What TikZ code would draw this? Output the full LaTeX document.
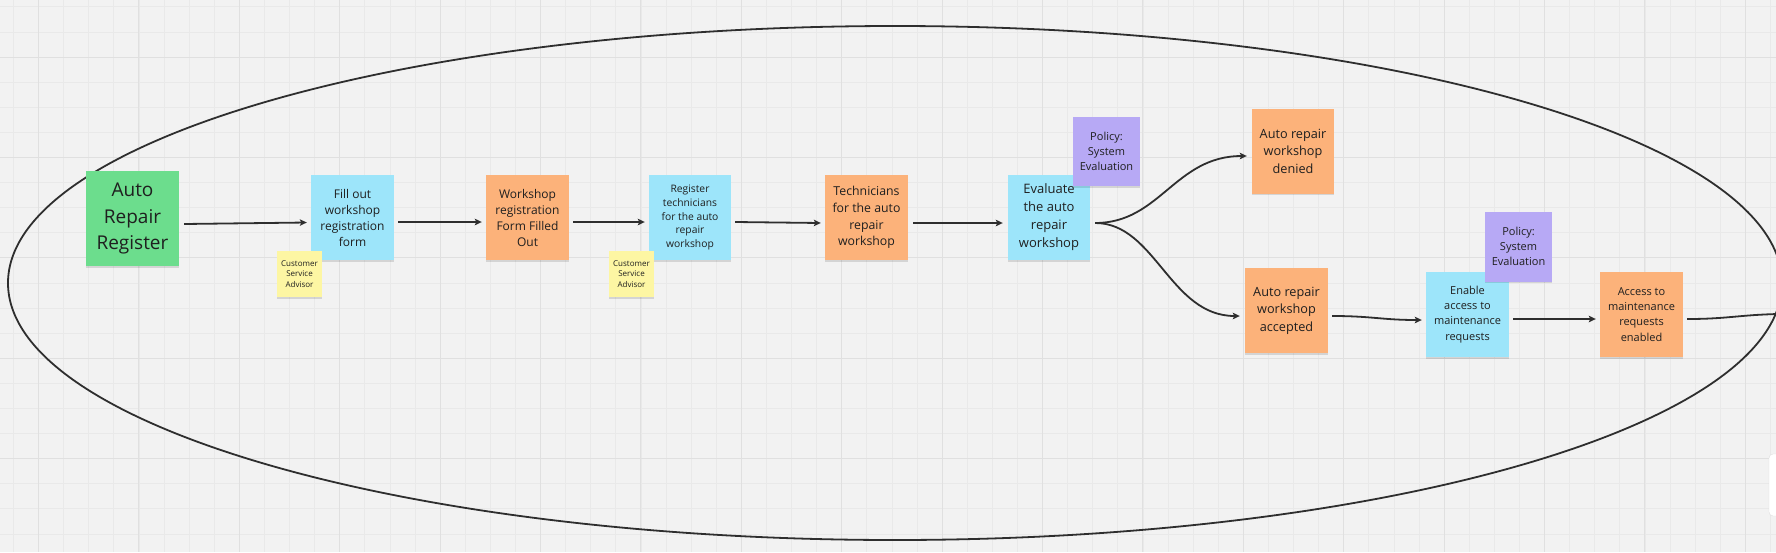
\documentclass[tikz,border=0pt]{standalone}
\usepackage{fontspec}
\setmainfont{Open Sans}
\usetikzlibrary{arrows.meta,shadows,calc}
\definecolor{bgc}{HTML}{F2F2F2}
\definecolor{gridminor}{HTML}{E9E9E9}
\definecolor{gridmajor}{HTML}{E0E0E0}
\definecolor{sgreen}{HTML}{6CDD8D}
\definecolor{sblue}{HTML}{9DE5FA}
\definecolor{sorange}{HTML}{FCB27A}
\definecolor{syellow}{HTML}{FDF6A3}
\definecolor{spurple}{HTML}{B7A9F5}
\definecolor{txt}{HTML}{1F1F1F}
\definecolor{linec}{HTML}{2E2E2E}
\tikzset{
  sticky/.style={inner sep=0pt, align=center, text=txt,
    drop shadow={shadow xshift=0pt, shadow yshift=-1.5pt, opacity=0.12, fill=black}},
  stickysz/.style 2 args={minimum width=#1pt, minimum height=#2pt},
  arr/.style={line width=1.8pt, draw=linec, -{Stealth[length=7pt,width=6.5pt,inset=1.5pt]}},
  plainln/.style={line width=1.8pt, draw=linec},
}
\begin{document}
\begin{tikzpicture}[x=1pt,y=-1pt]
\useasboundingbox (0,0) rectangle (1776,552);
\clip (0,0) rectangle (1776,552);
\fill[bgc] (0,0) rectangle (1776,552);
% grid
\foreach \i in {0,...,71} {
  \draw[gridminor, line width=0.8pt] ({13.4+\i*25.1},0) -- ({13.4+\i*25.1},552);
}
\foreach \i in {0,...,22} {
  \draw[gridminor, line width=0.8pt] (0,{6.8+\i*25.1}) -- (1776,{6.8+\i*25.1});
}
\foreach \i in {0,...,17} {
  \draw[gridmajor, line width=1pt] ({38.5+\i*100.4},0) -- ({38.5+\i*100.4},552);
}
\foreach \i in {0,...,5} {
  \draw[gridmajor, line width=1pt] (0,{57+\i*100.4}) -- (1776,{57+\i*100.4});
}

% big ellipse
\draw[line width=1.8pt, draw=linec] (895,283) ellipse [x radius=887pt, y radius=257pt];

% sticky notes
\node[sticky, fill=sgreen, stickysz={93}{95}, font=\fontsize{19}{26.7}\selectfont] (green) at (132.5,218.5) {Auto\\Repair\\Register};
\node[sticky, fill=sblue, stickysz={83}{85}, font=\fontsize{12}{16}\selectfont] (fill) at (352.5,217.5) {Fill out\\workshop\\registration\\form};
\node[sticky, fill=syellow, stickysz={45}{46}, font=\fontsize{8}{10.8}\selectfont] (adv1) at (299.5,274) {Customer\\Service\\Advisor};
\node[sticky, fill=sorange, stickysz={83}{85}, font=\fontsize{12}{16}\selectfont] (wsreg) at (527.5,217.5) {Workshop\\registration\\Form Filled\\Out};
\node[sticky, fill=sblue, stickysz={82}{85}, font=\fontsize{10.3}{13.75}\selectfont] (regtech) at (690,217.5) {Register\\technicians\\for the auto\\repair\\workshop};
\node[sticky, fill=syellow, stickysz={45}{46}, font=\fontsize{8}{10.8}\selectfont] (adv2) at (631.5,274) {Customer\\Service\\Advisor};
\node[sticky, fill=sorange, stickysz={83}{85}, font=\fontsize{12.3}{16.7}\selectfont] (tech) at (866.5,217.5) {Technicians\\for the auto\\repair\\workshop};
\node[sticky, fill=sblue, stickysz={82}{85}, font=\fontsize{13}{18}\selectfont] (eval) at (1049,217.5) {Evaluate\\the auto\\repair\\workshop};
\node[sticky, fill=spurple, stickysz={67}{69}, font=\fontsize{11}{15.2}\selectfont] (pol1) at (1106.5,151.5) {Policy:\\System\\Evaluation};
\node[sticky, fill=sorange, stickysz={82}{85}, font=\fontsize{12.7}{17.5}\selectfont] (denied) at (1293,151) {Auto repair\\workshop\\denied};
\node[sticky, fill=sorange, stickysz={83}{85}, font=\fontsize{12.7}{17.5}\selectfont] (accepted) at (1286.5,310.5) {Auto repair\\workshop\\accepted};
\node[sticky, fill=sblue, stickysz={83}{85}, font=\fontsize{11}{15.1}\selectfont] (enable) at (1467.5,314.5) {Enable\\access to\\maintenance\\requests};
\node[sticky, fill=spurple, stickysz={67}{70}, font=\fontsize{11}{15.1}\selectfont] (pol2) at (1518.5,246.5) {Policy:\\System\\Evaluation};
\node[sticky, fill=sorange, stickysz={83}{85}, font=\fontsize{11}{15.1}\selectfont] (access) at (1641.5,314.5) {Access to\\maintenance\\requests\\enabled};

% connectors
\draw[arr] ([xshift=5pt,yshift=-5.5pt]green.east) -- ([xshift=-4pt,yshift=-5pt]fill.west);
\draw[arr] ([xshift=4pt,yshift=-4.5pt]fill.east) -- ([xshift=-4pt,yshift=-4.5pt]wsreg.west);
\draw[arr] ([xshift=4pt,yshift=-4.5pt]wsreg.east) -- ([xshift=-4pt,yshift=-4.5pt]regtech.west);
\draw[arr] ([xshift=4pt,yshift=-4.5pt]regtech.east) -- ([xshift=-4pt,yshift=-5.5pt]tech.west);
\draw[arr] ([xshift=5pt,yshift=-5.5pt]tech.east) -- ([xshift=-5pt,yshift=-5.5pt]eval.west);
\draw[arr] ([xshift=5pt,yshift=-5.5pt]eval.east) .. controls +(65,0) and +(-72,0) .. ([xshift=-5pt,yshift=-5pt]denied.west);
\draw[arr] ([xshift=5pt,yshift=-5.5pt]eval.east) .. controls +(60,0) and +(-70,0) .. ([xshift=-5pt,yshift=-5.5pt]accepted.west);
\draw[arr] ([xshift=4pt,yshift=-5.5pt]accepted.east) .. controls +(40,0) and +(-40,0) .. ([xshift=-4pt,yshift=-5.5pt]enable.west);
\draw[arr] ([xshift=4pt,yshift=-4.5pt]enable.east) -- ([xshift=-4pt,yshift=-4.5pt]access.west);
\coordinate (edge) at (1778,314);
\draw[plainln] ([xshift=4pt,yshift=-4.5pt]access.east) .. controls +(40,0) and +(-40,1) .. (edge);

% partially visible white panel at lower right
\draw[fill=white, draw=gridmajor, rounded corners=4pt] (1769,454) rectangle (1790,516);
\end{tikzpicture}
\end{document}
